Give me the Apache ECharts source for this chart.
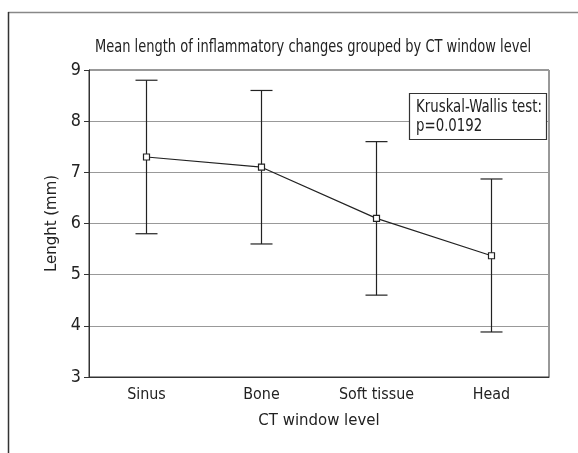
<!DOCTYPE html>
<html>
<head>
<meta charset="utf-8">
<script src="https://cdn.jsdelivr.net/npm/echarts@6/dist/echarts.min.js"></script>
<style>html,body{margin:0;padding:0;background:#fff}#c{width:578px;height:453px}</style>
</head>
<body>
<div id="c"></div>
<script>
var categories = ['Sinus', 'Bone', 'Soft tissue', 'Head'];
var means = [7.3, 7.1, 6.1, 5.37];
var upper = [8.8, 8.6, 7.6, 6.87];
var lower = [5.8, 5.6, 4.6, 3.88];
var yTicks = [3, 4, 5, 6, 7, 8, 9];
var titleText = 'Mean length of inflammatory changes grouped by CT window level';
var noteLines = ['Kruskal-Wallis test:', 'p=0.0192'];
var xName = 'CT window level';
var yName = 'Lenght (mm)';

// pick the narrowest available font
var cv = document.createElement('canvas').getContext('2d');
function w(font, s) { cv.font = font; return cv.measureText(s).width; }
function has(f) {
  var s = 'mmmmWWWiiilll0192';
  return w('40px "' + f + '", monospace', s) !== w('40px monospace', s) ||
         w('40px "' + f + '", serif', s) !== w('40px serif', s);
}
var cands = ['Liberation Sans Narrow', 'DejaVu Sans Condensed', 'Noto Sans Condensed', 'Open Sans Condensed', 'Roboto Condensed', 'Liberation Sans'];
var fam = 'sans-serif';
for (var i = 0; i < cands.length; i++) { if (has(cands[i])) { fam = '"' + cands[i] + '"'; break; } }
var FONT = fam + ', sans-serif';
function fit(s, target, maxSize) {
  var m = w('20px ' + FONT, s);
  return Math.min(maxSize, Math.round(20 * target / m * 10) / 10);
}
// horizontal squeeze so that text at a given size spans the target width
function squeeze(s, target, size) {
  return Math.min(1, target / w(size + 'px ' + FONT, s));
}
var BIG = 18;
var titleScale = squeeze(titleText, 436, BIG);
var noteScale = squeeze(noteLines[0], 126, BIG);
var xTickSize = Math.min(18, fit('Soft tissue', 67, 18) * 1.12);
var yTickSize = Math.min(18, fit('Soft tissue', 67, 18) * 1.25);
var nameSize = Math.min(18, fit(yName, 88, 18) * 1.1);

var TXT = '#222';
var chart = echarts.init(document.getElementById('c'), null, {renderer: 'canvas'});
var errData = categories.map(function (c, i) { return [i, lower[i], upper[i]]; });

chart.setOption({
  animation: false,
  backgroundColor: '#fff',
  grid: {left: 89, top: 70, right: 29, bottom: 76, show: true, borderColor: '#333', borderWidth: 1},
  graphic: [
    {type: 'line', shape: {x1: 8, y1: 12.5, x2: 578, y2: 12.5}, style: {stroke: '#888', lineWidth: 1.5}, silent: true},
    {type: 'line', shape: {x1: 8.5, y1: 12, x2: 8.5, y2: 453}, style: {stroke: '#333', lineWidth: 1.5}, silent: true},
    {type: 'text', x: 313, y: 47, scaleX: titleScale, style: {text: titleText, font: BIG + 'px ' + FONT, fill: TXT, textAlign: 'center', textVerticalAlign: 'middle'}},
    {type: 'rect', shape: {x: 409.5, y: 93.5, width: 137, height: 46}, style: {fill: '#fff', stroke: '#333', lineWidth: 1.2}, z: 10},
    {type: 'text', x: 416, y: 107, z: 11, scaleX: noteScale, style: {text: noteLines[0], font: BIG + 'px ' + FONT, fill: TXT, textVerticalAlign: 'middle'}},
    {type: 'text', x: 416, y: 126, z: 11, scaleX: noteScale, style: {text: noteLines[1], font: BIG + 'px ' + FONT, fill: TXT, textVerticalAlign: 'middle'}}
  ],
  xAxis: {
    type: 'category',
    data: categories,
    boundaryGap: true,
    name: xName,
    nameLocation: 'middle',
    nameGap: 35,
    nameTextStyle: {fontFamily: FONT, fontSize: nameSize, color: TXT},
    axisLine: {lineStyle: {color: '#333', width: 1}},
    axisTick: {alignWithLabel: true, length: 5, lineStyle: {color: '#333'}},
    axisLabel: {fontFamily: FONT, fontSize: xTickSize, color: TXT, margin: 10},
    splitLine: {show: false}
  },
  yAxis: {
    type: 'value',
    min: yTicks[0],
    max: yTicks[yTicks.length - 1],
    interval: 1,
    name: yName,
    nameLocation: 'middle',
    nameGap: 29,
    nameTextStyle: {fontFamily: FONT, fontSize: nameSize, color: TXT},
    axisLine: {show: true, lineStyle: {color: '#333', width: 1}},
    axisTick: {show: true, length: 5, lineStyle: {color: '#333'}},
    axisLabel: {fontFamily: FONT, fontSize: yTickSize, color: TXT, margin: 8},
    splitLine: {show: true, lineStyle: {color: '#999', width: 1}}
  },
  series: [
    {
      type: 'custom',
      data: errData,
      z: 3,
      renderItem: function (params, api) {
        var x = api.value(0);
        var lo = api.coord([x, api.value(1)]);
        var hi = api.coord([x, api.value(2)]);
        var hw = 11;
        var style = {stroke: '#222', lineWidth: 1.2, fill: null};
        return {
          type: 'group',
          children: [
            {type: 'line', shape: {x1: hi[0], y1: hi[1], x2: lo[0], y2: lo[1]}, style: style},
            {type: 'line', shape: {x1: hi[0] - hw, y1: hi[1], x2: hi[0] + hw, y2: hi[1]}, style: style},
            {type: 'line', shape: {x1: lo[0] - hw, y1: lo[1], x2: lo[0] + hw, y2: lo[1]}, style: style}
          ]
        };
      }
    },
    {
      type: 'line',
      data: means,
      z: 5,
      symbol: 'rect',
      symbolSize: 6,
      lineStyle: {color: '#222', width: 1.2},
      itemStyle: {color: '#fff', borderColor: '#222', borderWidth: 1.2}
    }
  ]
});
</script>
</body>
</html>
